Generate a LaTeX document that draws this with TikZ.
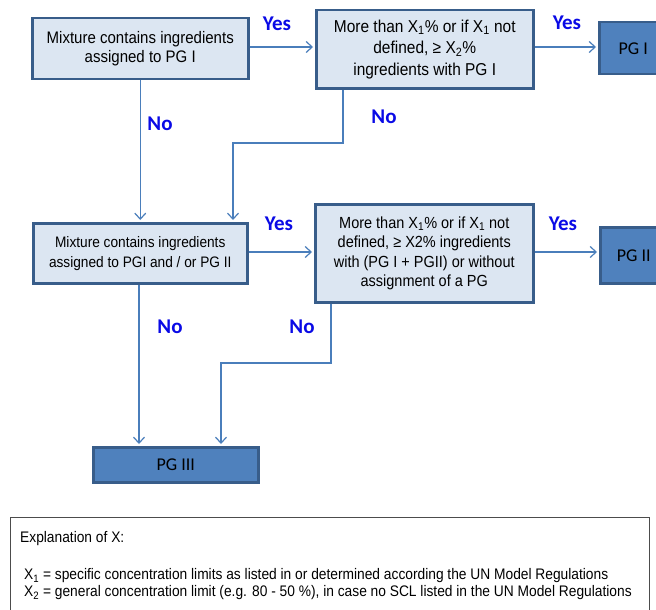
\documentclass[tikz,border=0pt]{standalone}
\usepackage{fontspec}
\setmainfont{Liberation Sans}[FakeStretch=0.9]
\newfontfamily\calfont{Carlito}
\usetikzlibrary{arrows.meta,calc}
\definecolor{lightfill}{HTML}{DCE6F2}
\definecolor{boxborder}{HTML}{385D8A}
\definecolor{darkfill}{HTML}{4F81BD}
\definecolor{arrowcol}{HTML}{4A7EBB}
\definecolor{labelblue}{HTML}{0A0AE6}
\tikzset{
  lightbox/.style={draw=boxborder, line width=2.5pt, fill=lightfill, align=center, inner sep=0pt, anchor=north west},
  darkbox/.style={draw=boxborder, line width=2.5pt, fill=darkfill, align=center, inner sep=0pt, anchor=north west, font=\calfont\fontsize{18}{20}\selectfont},
  arr/.style={draw=arrowcol, line width=1.2pt, -{Straight Barb[length=6pt,width=11pt]}, shorten >=2pt},
  yesno/.style={text=labelblue, font=\calfont\bfseries\fontsize{21}{24}\selectfont, inner sep=0pt},
  expl/.style={anchor=west, inner sep=0pt, font=\fontsize{15.3}{16}\selectfont}
}
\begin{document}
\begin{tikzpicture}[x=1pt,y=-1pt]
\useasboundingbox (0,0) rectangle (656,610);
\clip (0,0) rectangle (656,610);
\fill[white] (0,0) rectangle (656,610);
% boxes
\node[lightbox, minimum width=216, minimum height=61, font=\fontsize{16.7}{19}\selectfont] (A) at (31,17) {Mixture contains ingredients\\assigned to PG I};
\node[lightbox, minimum width=217, minimum height=78, font=\fontsize{17.2}{21.5}\selectfont] (B) at (315,9) {More than X\textsubscript{1}\% or if X\textsubscript{1} not\\defined, ≥ X\textsubscript{2}\%\\ingredients with PG I};
\node[darkbox, minimum width=68, minimum height=52] (P1) at (598,21) {PG I};
\node[lightbox, minimum width=214, minimum height=60, font=\fontsize{15.2}{20}\selectfont] (C) at (32,222) {Mixture contains ingredients\\assigned to PGI and / or PG II};
\node[lightbox, minimum width=218, minimum height=98, font=\fontsize{16.1}{19.5}\selectfont] (D) at (314,203) {More than X\textsubscript{1}\% or if X\textsubscript{1} not\\defined, ≥ X2\% ingredients\\with (PG I + PGII) or without\\assignment of a PG};
\node[darkbox, minimum width=67, minimum height=56] (P2) at (599,226) {PG II};
\node[darkbox, minimum width=165, minimum height=35] (P3) at (92,446) {PG III};
% explanation box
\node[draw=black!70, line width=0.8pt, minimum width=639, minimum height=110, anchor=north west, inner sep=0pt] (E) at (10,517) {};
\node[expl] (e1) at (20,539) {Explanation of X:};
\node[expl] (e2) at (24,576) {X\textsubscript{1} = specific concentration limits as listed in or determined according the UN Model Regulations};
\node[expl] (e3) at (24,593) {X\textsubscript{2} = general concentration limit (e.g. 80 - 50 \%), in case no SCL listed in the UN Model Regulations};
% connectors
\draw[arr] (A.east |- 0,47) -- (B.west |- 0,47);
\draw[arr] (B.east |- 0,47) -- (P1.west |- 0,47);
\draw[arr] (A.south) -- (C.north -| A.south);
\draw[arr] (B.south west -| 343,0) -- (343,143) -| (C.north west -| 233,0);
\draw[arr] (C.east |- 0,252) -- (D.west |- 0,252);
\draw[arr] (D.east |- 0,252) -- (P2.west |- 0,252);
\draw[arr] (C.south -| 139,0) -- (P3.north -| 139,0);
\draw[arr] (D.south west -| 331,0) -- (331,363) -| (P3.north -| 221,0);
% labels
\node[yesno] (y1) at (277,24) {Yes};
\node[yesno] (y2) at (567,23) {Yes};
\node[yesno] (n1) at (160,124) {No};
\node[yesno] (n2) at (384,117) {No};
\node[yesno] (y3) at (279,224) {Yes};
\node[yesno] (y4) at (563,224) {Yes};
\node[yesno] (n3) at (170,327) {No};
\node[yesno] (n4) at (302,327) {No};
\end{tikzpicture}
\end{document}
